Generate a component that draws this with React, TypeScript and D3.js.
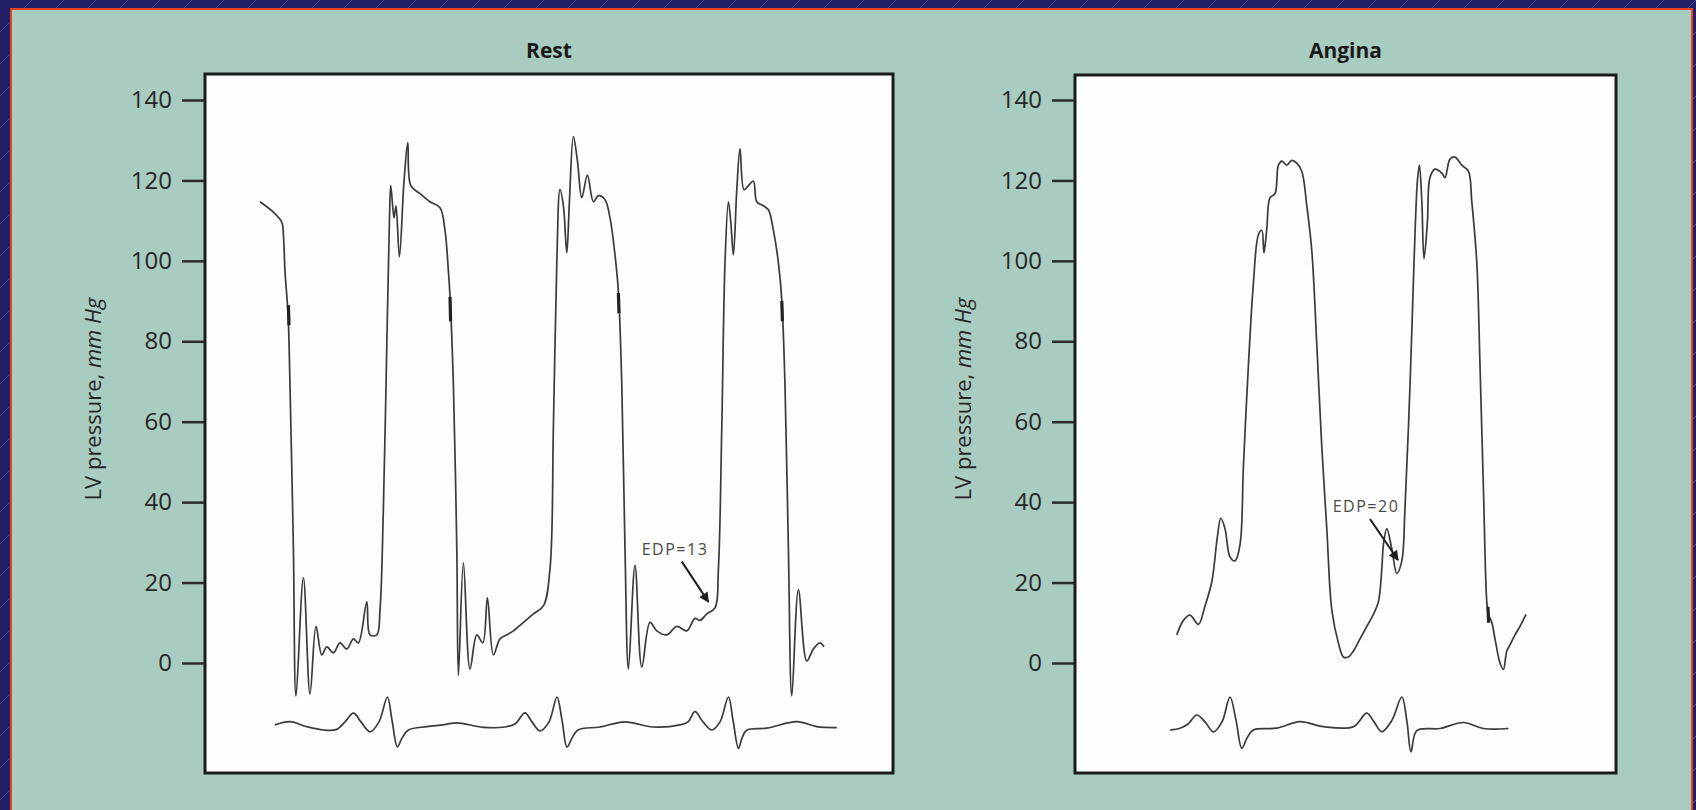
import { useEffect, useRef } from 'react';
import * as d3 from 'd3';

const W = 1696;
const H = 810;

// pressure axis (mm Hg)
const yTicks = [0, 20, 40, 60, 80, 100, 120, 140];

// time in ms, pressure in mm Hg
const restPressure: [number, number][] = [
  [275, 114.7], [342, 112.1], [384, 109.6], [392, 106.5], [400, 97.4], [412, 89.3], [417, 84.7],
  [425, 69], [442, 28.4], [455, -8.2], [492, 21.2], [525, -7.7], [555, 9.1], [584, 2], [609, 4],
  [642, 2.5], [675, 5], [709, 3.5], [742, 6], [767, 5], [809, 15.2], [825, 7], [859, 7], [875, 13.2],
  [892, 38.6], [909, 79], [922, 109.7], [929, 118.7], [945, 110.7], [955, 113.7], [972, 101],
  [995, 119.8], [1014, 129.4], [1029, 118.7], [1075, 116.7], [1125, 114.7], [1175, 113.2],
  [1200, 107.6], [1217, 97.4], [1225, 91.3], [1242, 69], [1259, 28.4], [1267, -3.1], [1292, 24.9],
  [1325, -1.5], [1359, 7], [1389, 5], [1412, 16.2], [1442, 2], [1475, 6], [1509, 7], [1542, 8],
  [1592, 10.1], [1642, 12.2], [1692, 14.2], [1725, 23.4], [1742, 58.8], [1759, 99.5], [1775, 117.7],
  [1792, 113.7], [1809, 102], [1822, 114.7], [1842, 130.9], [1862, 124.9], [1884, 115.7],
  [1912, 121.3], [1942, 114.7], [1967, 116.2], [2000, 115.2], [2025, 110.7], [2050, 101.5],
  [2067, 92.3], [2084, 69], [2100, 28.4], [2117, -1.5], [2150, 24.3], [2184, -1], [2225, 10.1],
  [2259, 8], [2309, 7], [2359, 9.1], [2409, 8], [2450, 11.1], [2475, 10.6], [2509, 12.2], [2550, 13.7],
  [2567, 23.4], [2584, 58.8], [2600, 99.5], [2617, 114.7], [2629, 109.6], [2642, 101.5], [2659, 117.7],
  [2675, 127.9], [2695, 117.7], [2717, 118.7], [2742, 119.8], [2759, 114.7], [2792, 113.7],
  [2817, 112.7], [2842, 107.6], [2867, 99.5], [2884, 90.3], [2900, 69], [2917, 28.4], [2934, -8.2],
  [2967, 18.2], [3009, 0.5], [3042, 3.5], [3075, 5], [3095, 4],
];

const anginaPressure: [number, number][] = [
  [509, 7], [542, 10.6], [575, 11.9], [617, 9.6], [650, 14.2], [684, 20.2], [712, 31.4], [729, 36],
  [750, 33.4], [775, 26.4], [800, 25.4], [825, 29.4], [842, 48.8], [867, 74], [892, 94.4], [917, 106.5],
  [934, 107.6], [945, 102], [959, 108], [975, 115.7], [1000, 116.7], [1017, 123.8], [1034, 124.8],
  [1059, 123.8], [1084, 125], [1109, 124.3], [1134, 122.3], [1159, 113.7], [1184, 102.5], [1209, 79.1],
  [1234, 53.7], [1259, 33.4], [1284, 13.2], [1317, 5], [1342, 1.5], [1367, 1.5], [1392, 3], [1425, 6],
  [1459, 9.1], [1492, 12.1], [1517, 15.2], [1534, 23.3], [1542, 29.4], [1559, 33.4], [1584, 28.4],
  [1609, 22.3], [1634, 25.4], [1650, 38.6], [1675, 69], [1695, 99.5], [1712, 119.8], [1722, 123.8],
  [1734, 115], [1745, 100.5], [1762, 109.6], [1775, 120.7], [1800, 122.8], [1834, 121.8], [1850, 120.7],
  [1875, 125.3], [1900, 125.8], [1934, 123.8], [1967, 122.3], [1984, 114.7], [2009, 99.5], [2025, 74],
  [2042, 43.6], [2059, 15.2], [2067, 12.1], [2084, 10.1], [2100, 6], [2125, 0], [2142, -1.6],
  [2159, 3], [2175, 4.5], [2200, 7], [2225, 9.1], [2255, 12.1],
];

// ECG, time in ms, mV
const restEcg: [number, number][] = [
  [350, 0.07], [425, 0.18], [509, 0.01], [592, -0.1], [659, -0.08], [700, 0.17], [742, 0.46], [780, 0.17],
  [825, -0.16], [870, 0.17], [912, 1.0], [935, 0.23], [962, -0.66], [985, -0.37], [1017, -0.1],
  [1109, 0.01], [1192, 0.07], [1259, 0.14], [1390, -0.01], [1500, 0], [1550, 0.1], [1600, 0.47],
  [1635, 0.17], [1675, -0.13], [1720, 0.17], [1760, 1.0], [1785, 0.23], [1810, -0.67], [1835, -0.37],
  [1865, -0.1], [1975, 0], [2100, 0.17], [2240, 0], [2375, 0.07], [2415, 0.17], [2450, 0.51],
  [2490, 0.17], [2534, -0.1], [2575, 0.17], [2617, 1.0], [2640, 0.23], [2667, -0.71], [2685, -0.37],
  [2709, -0.1], [2809, -0.04], [2959, 0.18], [3059, 0.01], [3159, -0.02],
];

const anginaEcg: [number, number][] = [
  [475, -0.1], [525, -0.04], [565, 0.1], [609, 0.4], [650, 0.17], [692, -0.16], [735, 0.17], [775, 1.0],
  [805, 0.23], [834, -0.71], [860, -0.37], [892, -0.1], [1009, -0.04], [1125, 0.18], [1242, 0.01],
  [1392, 0.01], [1459, 0.46], [1495, 0.17], [1534, -0.16], [1585, 0.23], [1634, 1.0], [1660, 0.17],
  [1680, -0.83], [1709, -0.12], [1825, -0.05], [1942, 0.15], [2042, -0.05], [2167, -0.05],
];

// darker pen smudges on the falling limb: [ms, low, high]
const restSmudges: [number, number, number][] = [[417, 84, 89], [1225, 85, 91], [2067, 87, 92], [2884, 85, 90]];
const anginaSmudges: [number, number, number][] = [[2065, 10, 14]];

const panelTitles = ['Rest', 'Angina'];
const edpLabels = ['EDP=13', 'EDP=20'];
// label anchor, arrow start, arrow tip: [ms, mm Hg]
const edpText: [number, number][] = [[2350, 26.9], [1455, 37.6]];
const edpFrom: [number, number][] = [[2384, 25.2], [1475, 35.8]];
const edpTo: [number, number][] = [[2517, 15.2], [1615, 25.6]];
const timeSpan = [3440, 2705];

export default function App() {
  const svgRef = useRef<SVGSVGElement>(null);

  useEffect(() => {
    if (!svgRef.current) return;
    const svg = d3.select(svgRef.current);
    svg.selectAll('*').remove();

    const defs = svg.append('defs');
    const pat = defs
      .append('pattern')
      .attr('id', 'hatch')
      .attr('width', 32)
      .attr('height', 32)
      .attr('patternUnits', 'userSpaceOnUse');
    pat.append('rect').attr('width', 32).attr('height', 32).attr('fill', '#231f66');
    pat
      .append('path')
      .attr('d', 'M-2,34 L34,-2')
      .attr('stroke', '#8c8ac4')
      .attr('stroke-width', 0.8)
      .attr('opacity', 0.55);

    defs
      .append('marker')
      .attr('id', 'arrow')
      .attr('viewBox', '0 0 10 10')
      .attr('refX', 9)
      .attr('refY', 5)
      .attr('markerWidth', 12)
      .attr('markerHeight', 10)
      .attr('markerUnits', 'userSpaceOnUse')
      .attr('orient', 'auto')
      .append('path')
      .attr('d', 'M0,0 L10,5 L0,10 z')
      .attr('fill', '#1e1e1e');

    // backdrop + sage panel
    svg.append('rect').attr('width', W).attr('height', H).attr('fill', 'url(#hatch)');
    svg
      .append('rect')
      .attr('x', 11)
      .attr('y', 9)
      .attr('width', 1681)
      .attr('height', 820)
      .attr('fill', '#a9ccc0')
      .attr('stroke', '#e8451f')
      .attr('stroke-width', 2);

    const y = d3.scaleLinear().domain([0, 140]).range([663, 100]);
    const ecgY = d3.scaleLinear().domain([0, 1]).range([727, 697]);

    const boxes = [
      { x0: 205, x1: 893, y0: 74, y1: 773 },
      { x0: 1075, x1: 1616, y0: 75, y1: 773 },
    ];
    const pressures = [restPressure, anginaPressure];
    const ecgs = [restEcg, anginaEcg];
    const smudges = [restSmudges, anginaSmudges];

    boxes.forEach((b, i) => {
      const x = d3.scaleLinear().domain([0, timeSpan[i]]).range([b.x0, b.x1]);

      svg
        .append('rect')
        .attr('x', b.x0)
        .attr('y', b.y0)
        .attr('width', b.x1 - b.x0)
        .attr('height', b.y1 - b.y0)
        .attr('fill', '#fdfdfb')
        .attr('stroke', '#1c1c1c')
        .attr('stroke-width', 3);

      // Title
      svg
        .append('text')
        .attr('x', (b.x0 + b.x1) / 2)
        .attr('y', 58)
        .attr('text-anchor', 'middle')
        .attr('font-family', 'Open Sans')
        .attr('font-weight', 700)
        .attr('font-size', 21)
        .style('fill', '#1a1a1a')
        .text(panelTitles[i]);

      // Y axis
      const axis = svg
        .append('g')
        .attr('transform', `translate(${b.x0 - 1},0)`)
        .call(d3.axisLeft(y).tickValues(yTicks).tickSize(22).tickPadding(10));
      axis.select('.domain').remove();
      axis.selectAll('line').attr('stroke', '#2b2b2b').attr('stroke-width', 2.5);
      axis
        .selectAll('text')
        .attr('font-family', 'Open Sans')
        .attr('font-size', 24)
        .style('fill', '#262626');

      const lab = svg
        .append('text')
        .attr('transform', `translate(${b.x0 - 104},399) rotate(-90)`)
        .attr('text-anchor', 'middle')
        .attr('font-family', 'Open Sans')
        .attr('font-size', 22)
        .style('fill', '#262626');
      lab.append('tspan').text('LV pressure, ');
      lab.append('tspan').attr('font-style', 'italic').text('mm Hg');

      // Pressure trace
      const line = d3
        .line<[number, number]>()
        .x((d) => x(d[0]))
        .y((d) => y(d[1]))
        .curve(d3.curveCatmullRom.alpha(0.5));
      svg
        .append('path')
        .attr('d', line(pressures[i]))
        .attr('fill', 'none')
        .attr('stroke', '#3a3a3a')
        .attr('stroke-width', 1.7)
        .attr('stroke-linejoin', 'round');

      smudges[i].forEach((s) => {
        svg
          .append('line')
          .attr('x1', x(s[0]))
          .attr('x2', x(s[0]) + 0.6)
          .attr('y1', y(s[2]))
          .attr('y2', y(s[1]))
          .attr('stroke', '#222')
          .attr('stroke-width', 3.2);
      });

      // ECG
      const ecgLine = d3
        .line<[number, number]>()
        .x((d) => x(d[0]))
        .y((d) => ecgY(d[1]))
        .curve(d3.curveCatmullRom.alpha(0.5));
      svg
        .append('path')
        .attr('d', ecgLine(ecgs[i]))
        .attr('fill', 'none')
        .attr('stroke', '#3a3a3a')
        .attr('stroke-width', 1.7);

      // EDP annotation
      svg
        .append('text')
        .attr('x', x(edpText[i][0]))
        .attr('y', y(edpText[i][1]))
        .attr('text-anchor', 'middle')
        .attr('font-family', 'Open Sans')
        .attr('font-size', 16)
        .attr('letter-spacing', 1.5)
        .style('fill', '#4a4a4a')
        .text(edpLabels[i]);
      svg
        .append('line')
        .attr('x1', x(edpFrom[i][0]))
        .attr('y1', y(edpFrom[i][1]))
        .attr('x2', x(edpTo[i][0]))
        .attr('y2', y(edpTo[i][1]))
        .attr('stroke', '#1e1e1e')
        .attr('stroke-width', 2)
        .attr('marker-end', 'url(#arrow)');
    });
  }, []);

  return (
    <svg
      ref={svgRef}
      width={W}
      height={H}
      style={{ position: 'absolute', left: 0, top: 0, display: 'block' }}
    />
  );
}
